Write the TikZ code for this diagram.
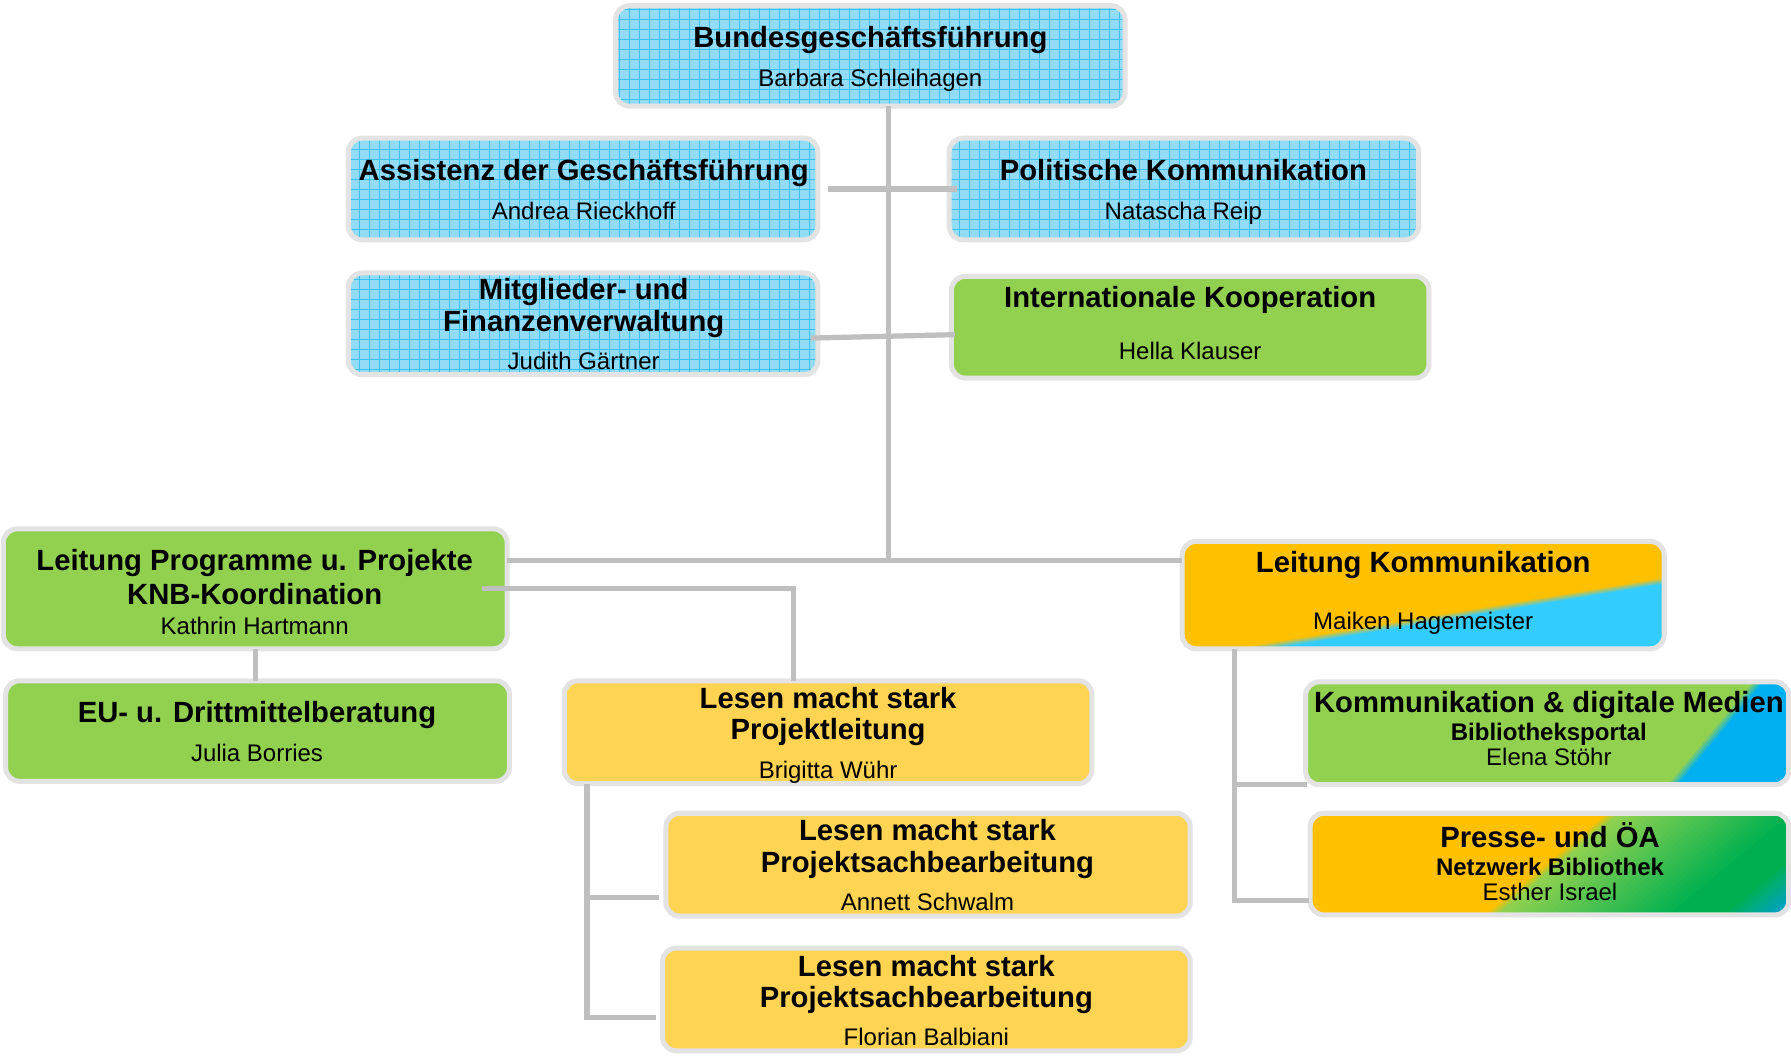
\documentclass[tikz,border=0pt]{standalone}
\usepackage{fontspec}
\setmainfont{Liberation Sans}
\usetikzlibrary{calc}
\definecolor{gridfill}{HTML}{92DCF8}
\definecolor{gridline}{HTML}{3CC0F0}
\definecolor{bordercol}{HTML}{E3E3E3}
\definecolor{conncol}{HTML}{BFBFBF}
\definecolor{lgreen}{HTML}{92D050}
\definecolor{lyellow}{HTML}{FFD452}
\definecolor{korange}{HTML}{FFC000}
\definecolor{kcyan}{HTML}{33CCFF}
\definecolor{kblue}{HTML}{00B0F0}
\definecolor{plight}{HTML}{8ED150}
\definecolor{pgreen}{HTML}{00B050}
\definecolor{pteal}{HTML}{00A0DC}
\begin{document}
\begin{tikzpicture}[x=0.5pt,y=-0.5pt,
  box/.style={rectangle, rounded corners=6pt, inner sep=0pt, outer sep=0pt, draw=none},
  boxframe/.style={draw=bordercol, line width=2.2pt, rounded corners=6pt},
  conn/.style={draw=conncol, line width=2.3pt},
  gridln/.style={draw=gridline, line width=0.45pt},
  ttl/.style={font=\fontsize{12.8}{14}\selectfont\bfseries, inner sep=0pt, text height=9.16pt, text depth=0pt, yshift=-0.5pt},
  subttl/.style={font=\fontsize{10.5}{12}\selectfont\bfseries, inner sep=0pt, text height=7.52pt, text depth=0pt, yshift=-0.5pt},
  nm/.style={font=\fontsize{10.5}{12}\selectfont, inner sep=0pt, text height=7.52pt, text depth=0pt, yshift=-0.5pt}]
\useasboundingbox (0,0) rectangle (1568,924);

% boxes
\node[box, fill=gridfill, minimum width=223pt, minimum height=44pt] (bgf) at (762,49) {};
\node[box, fill=gridfill, minimum width=205.5pt, minimum height=44.5pt] (asst) at (510.5,165.5) {};
\node[box, fill=gridfill, minimum width=205.5pt, minimum height=44.5pt] (pol) at (1036.5,165.5) {};
\node[box, fill=gridfill, minimum width=205.5pt, minimum height=44.5pt] (mit) at (510.5,283.5) {};
\node[box, fill=lgreen, minimum width=209pt, minimum height=44.5pt] (int) at (1042,286.5) {};
\node[box, fill=lgreen, minimum width=220.5pt, minimum height=52.5pt] (lpp) at (223.5,515.5) {};
\node[box, fill=korange, minimum width=211pt, minimum height=47pt] (lk) at (1246,521) {};
\node[box, fill=lgreen, minimum width=220.5pt, minimum height=44pt] (eu) at (225.5,640) {};
\node[box, fill=lyellow, minimum width=231pt, minimum height=45pt] (lms1) at (725,641) {};
\node[box, fill=lyellow, minimum width=229.5pt, minimum height=45pt] (lms2) at (812.5,757) {};
\node[box, fill=lyellow, minimum width=231pt, minimum height=45pt] (lms3) at (811,875) {};
\node[box, fill=lgreen, minimum width=211.5pt, minimum height=45pt] (kdm) at (1354.5,642) {};
\node[box, fill=korange, minimum width=209.5pt, minimum height=44.5pt] (presse) at (1356.5,756.5) {};

% grid pattern on blue boxes
\foreach \b in {bgf,asst,pol,mit}{
  \begin{scope}
    \clip[rounded corners=6pt] (\b.south west) rectangle (\b.north east);
    \draw[gridln, step=4.375pt] (\b.south west) grid (\b.north east);
  \end{scope}
}

% Leitung Kommunikation: orange / cyan
\begin{scope}
  \clip[rounded corners=6pt] (lk.south west) rectangle (lk.north east);
  \begin{scope}[shift={(1106,566)}, rotate=9.4]
    \foreach \i in {0,...,6}{
      \pgfmathtruncatemacro\p{\i*100/6}
      \fill[kcyan!\p!korange] (-150pt,{1.5pt-\i*0.5pt}) rectangle (300pt,-150pt);
    }
  \end{scope}
\end{scope}

% Kommunikation & digitale Medien: green / blue
\begin{scope}
  \clip[rounded corners=6pt] (kdm.south west) rectangle (kdm.north east);
  \begin{scope}[shift={(1465,685)}, rotate=50.4]
    \foreach \i in {0,...,4}{
      \pgfmathtruncatemacro\p{\i*25}
      \fill[kblue!\p!lgreen] (-250pt,{2pt-\i*1pt}) rectangle (250pt,-300pt);
    }
  \end{scope}
\end{scope}

% Presse: orange / green / teal
\begin{scope}
  \clip[rounded corners=6pt] (presse.south west) rectangle (presse.north east);
  \begin{scope}[shift={(1305,800)}, rotate=39.7]
    \foreach \t in {-4,-2,...,4}{
      \pgfmathtruncatemacro\p{(\t+4)/8*100}
      \fill[plight!\p!korange] (-300pt,{-\t/2*1pt}) rectangle (300pt,-300pt);
    }
    \foreach \t in {8,12,...,100}{
      \pgfmathtruncatemacro\p{(\t-4)/96*100}
      \fill[pgreen!\p!plight] (-300pt,{-\t/2*1pt}) rectangle (300pt,-300pt);
    }
    \foreach \t in {132,136,...,168}{
      \pgfmathtruncatemacro\p{min(100,(\t-128)/36*100)}
      \fill[pteal!\p!pgreen] (-300pt,{-\t/2*1pt}) rectangle (300pt,-300pt);
    }
  \end{scope}
\end{scope}

% borders
\foreach \b in {bgf,asst,pol,mit,int,lpp,lk,eu,lms1,lms2,lms3,kdm,presse}{
  \draw[boxframe] (\b.south west) rectangle (\b.north east);
}

% connectors
\coordinate (tt) at ([xshift=8pt]bgf.south);
\coordinate (hj) at ([yshift=15pt]lk.west);
\draw[conn] (tt) -- (tt |- hj);
\draw[conn] ([yshift=12.25pt]lpp.east) -- (hj);
\draw[conn] ([xshift=4.5pt]asst.east) -- ([xshift=3.5pt]pol.west);
\draw[conn] ([xshift=-3pt,yshift=-6.25pt]mit.east) -- ([xshift=1.5pt,yshift=-3.25pt]int.west);
\draw[conn] ([xshift=-11pt]lpp.east) -| ([xshift=-15pt]lms1.north);
\draw[conn] (lpp.south) -- (lpp.south |- eu.north);
\draw[conn] ([xshift=-105.5pt]lms1.south) |- ([xshift=-3pt,yshift=-14.5pt]lms2.west);
\draw[conn] ([xshift=-105.5pt]lms1.south) |- ([xshift=-3pt,yshift=-8pt]lms3.west);
\draw[conn] ([xshift=-82.5pt]lk.south) |- ([xshift=0.5pt,yshift=-22.5pt]kdm.west);
\draw[conn] ([xshift=-82.5pt]lk.south) |- ([xshift=-0.5pt,yshift=-16pt]presse.west);

% texts
\node[ttl] (t-bgf) at (762,31) {Bundesgeschäftsführung};
\node[nm] (n-bgf) at (762,67) {Barbara Schleihagen};
\node[ttl] (t-asst) at (511,148) {Assistenz der Geschäftsführung};
\node[nm] (n-asst) at (511,184) {Andrea Rieckhoff};
\node[ttl] (t-pol) at (1036,148) {Politische Kommunikation};
\node[nm] (n-pol) at (1036,184) {Natascha Reip};
\node[ttl] (t-mit1) at (511,252) {Mitglieder- und};
\node[ttl] (t-mit2) at (511,280) {Finanzenverwaltung};
\node[nm] (n-mit) at (511,315) {Judith Gärtner};
\node[ttl] (t-int) at (1042,259) {Internationale Kooperation};
\node[nm] (n-int) at (1042,306) {Hella Klauser};
\node[ttl] (t-lpp1) at (223,489) {Leitung Programme u. Projekte};
\node[ttl] (t-lpp2) at (223,519) {KNB-Koordination};
\node[nm] (n-lpp) at (223,547) {Kathrin Hartmann};
\node[ttl] (t-lk) at (1246,491) {Leitung Kommunikation};
\node[nm] (n-lk) at (1246,543) {Maiken Hagemeister};
\node[ttl] (t-eu) at (225,622) {EU- u. Drittmittelberatung};
\node[nm] (n-eu) at (225,658) {Julia Borries};
\node[ttl] (t-l11) at (725,610) {Lesen macht stark};
\node[ttl] (t-l12) at (725,637) {Projektleitung};
\node[nm] (n-l1) at (725,673) {Brigitta Wühr};
\node[ttl] (t-l21) at (812,726) {Lesen macht stark};
\node[ttl] (t-l22) at (812,754) {Projektsachbearbeitung};
\node[nm] (n-l2) at (812,789) {Annett Schwalm};
\node[ttl] (t-l31) at (811,845) {Lesen macht stark};
\node[ttl] (t-l32) at (811,872) {Projektsachbearbeitung};
\node[nm] (n-l3) at (811,907) {Florian Balbiani};
\node[ttl] (t-kdm) at (1356,614) {Kommunikation \& digitale Medien};
\node[subttl] (s-kdm) at (1356,640) {Bibliotheksportal};
\node[nm] (n-kdm) at (1356,662) {Elena Stöhr};
\node[ttl] (t-pr) at (1357,732) {Presse- und ÖA};
\node[subttl] (s-pr) at (1357,758) {Netzwerk Bibliothek};
\node[nm] (n-pr) at (1357,780) {Esther Israel};
\end{tikzpicture}
\end{document}
